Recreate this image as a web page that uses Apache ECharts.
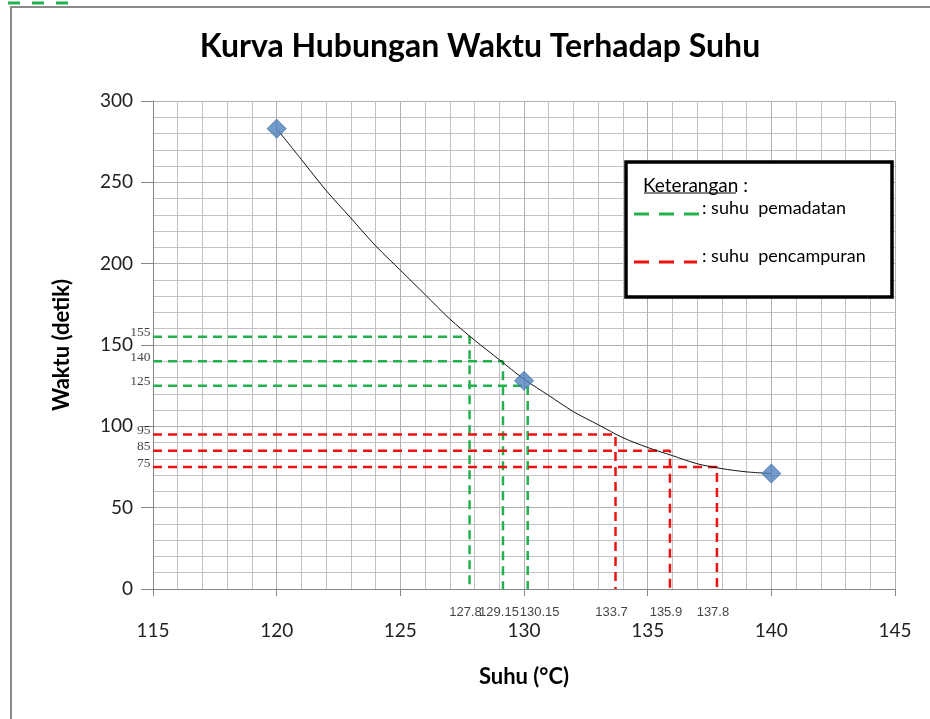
<!DOCTYPE html>
<html><head><meta charset="utf-8">
<script src="https://cdn.jsdelivr.net/npm/echarts@6/dist/echarts.min.js"></script>
<style>html,body{margin:0;padding:0;background:#fff}#c{width:930px;height:719px}</style>
</head><body><div id="c"></div>
<script>
// Measured points (Suhu °C, Waktu detik)
const pointSuhu = [120, 130, 140];
const pointWaktu = [283, 128, 71];
// Curve at each 1 °C
const curveSuhu = [120, 121, 122, 123, 124, 125, 126, 127, 128, 129, 130, 131, 132, 133, 134, 135, 136, 137, 138, 139, 140];
const curveWaktu = [283, 264, 245, 228, 211, 196, 181, 166, 153, 141, 129, 119, 109, 101, 93, 87, 82, 77, 74, 72, 71];
// Reference readings
const pemadatanSuhu = [127.8, 129.15, 130.15];
const pemadatanWaktu = [155, 140, 125];
const pencampuranSuhu = [133.7, 135.9, 137.8];
const pencampuranWaktu = [95, 85, 75];
const xTicks = [115, 120, 125, 130, 135, 140, 145];
const yTicks = [0, 50, 100, 150, 200, 250, 300];

const GREEN = '#22b14c', RED = '#ee1111';
const smallFont = "'Liberation Sans', sans-serif";
const series = [];

function refLines(sx, wy, color, dash, width) {
  sx.forEach((x, i) => {
    series.push({
      type: 'line', data: [[xTicks[0], wy[i]], [x, wy[i]], [x, yTicks[0]]],
      symbol: 'none', silent: true, z: 3,
      lineStyle: { color: color, type: dash, width: width }
    });
  });
}
refLines(pemadatanSuhu, pemadatanWaktu, GREEN, [9, 6], 2.5);
refLines(pencampuranSuhu, pencampuranWaktu, RED, [9, 6], 2.5);

// small value labels
const allSuhu = pemadatanSuhu.concat(pencampuranSuhu);
const allWaktu = pemadatanWaktu.concat(pencampuranWaktu);
const xLabelAlign = ['center', 'center', 'left', 'center', 'center', 'center'];
series.push({
  type: 'scatter', silent: true, symbolSize: 1, itemStyle: { color: 'rgba(0,0,0,0)' }, z: 6,
  data: allSuhu.map((x, i) => ({
    value: [x, yTicks[0]],
    label: { show: true, position: 'bottom', distance: 16, formatter: String(x), align: xLabelAlign[i],
      offset: xLabelAlign[i] === 'left' ? [-8, 0] : [-4, 0],
      color: '#111', fontSize: 13, fontFamily: smallFont }
  }))
});
series.push({
  type: 'scatter', silent: true, symbolSize: 1, itemStyle: { color: 'rgba(0,0,0,0)' }, z: 6,
  data: allWaktu.map((y, i) => ({
    value: [xTicks[0], y],
    label: { show: true, position: 'left', distance: 2, formatter: String(y), offset: [0, -4],
      color: '#111', fontSize: 13.5, fontFamily: "'Liberation Serif', serif" }
  }))
});

series.push({
  type: 'line', data: curveSuhu.map((x, i) => [x, curveWaktu[i]]),
  smooth: 0.3, symbol: 'none', z: 4,
  lineStyle: { color: '#111', width: 1 }
});
series.push({
  type: 'scatter', data: pointSuhu.map((x, i) => [x, pointWaktu[i]]),
  symbol: 'diamond', symbolSize: [19, 19], z: 5,
  itemStyle: { color: '#4f81bd', borderColor: '#3d6ea8', borderWidth: 1 }
});

const chart = echarts.init(document.getElementById('c'), null, { renderer: 'canvas' });
chart.setOption({
  animation: false,
  backgroundColor: '#fff',
  title: {
    text: 'Kurva Hubungan Waktu Terhadap Suhu', left: 475, top: 26, textAlign: 'center',
    textStyle: { fontFamily: 'Lato', fontWeight: 'bold', fontSize: 32, color: '#000' }
  },
  grid: { left: 153, right: 35, top: 101, bottom: 130 },
  xAxis: {
    type: 'value', min: xTicks[0], max: xTicks[xTicks.length - 1], interval: 5,
    name: 'Suhu (°C)', nameLocation: 'middle', nameGap: 77,
    nameTextStyle: { fontFamily: 'Lato', fontWeight: 'bold', fontSize: 22, color: '#000' },
    axisLine: { lineStyle: { color: '#868686', width: 1 } },
    axisTick: { show: true, length: 7, lineStyle: { color: '#868686' } },
    axisLabel: { margin: 32, fontSize: 19, color: '#222', fontFamily: 'Lato' },
    splitLine: { lineStyle: { color: '#b0b0b0', width: 1 } },
    minorTick: { show: false, splitNumber: 5 },
    minorSplitLine: { show: true, lineStyle: { color: '#c2c2c2', width: 1 } }
  },
  yAxis: {
    type: 'value', min: yTicks[0], max: yTicks[yTicks.length - 1], interval: 50,
    name: 'Waktu (detik)', nameLocation: 'middle', nameGap: 80, nameRotate: 90,
    nameTextStyle: { fontFamily: 'Lato', fontWeight: 'bold', fontSize: 22, color: '#000' },
    axisLine: { show: true, lineStyle: { color: '#868686', width: 1 } },
    axisTick: { show: true, length: 12, lineStyle: { color: '#868686' } },
    axisLabel: { margin: 20, fontSize: 19, color: '#222', fontFamily: 'Lato' },
    splitLine: { lineStyle: { color: '#b0b0b0', width: 1 } },
    minorTick: { show: false, splitNumber: 5 },
    minorSplitLine: { show: true, lineStyle: { color: '#c2c2c2', width: 1 } }
  },
  graphic: [
    { type: 'line', shape: { x1: 11, y1: 7, x2: 930, y2: 7 }, style: { stroke: '#8a8a8a', lineWidth: 2 } },
    { type: 'line', shape: { x1: 11, y1: 6, x2: 11, y2: 719 }, style: { stroke: '#8a8a8a', lineWidth: 2 } },
    { type: 'line', shape: { x1: 8, y1: 3, x2: 78, y2: 3 }, style: { stroke: '#22b14c', lineWidth: 3, lineDash: [12, 12] } },
    { type: 'rect', shape: { x: 626, y: 162, width: 266, height: 135 }, style: { fill: '#fff', stroke: '#000', lineWidth: 3.5 }, z: 100 },
    { type: 'text', x: 643, y: 176, style: { text: 'Keterangan :', fontSize: 19, fontFamily: 'Lato', fill: '#000' }, z: 101 },
    { type: 'line', shape: { x1: 644, y1: 193, x2: 736, y2: 193 }, style: { stroke: '#000', lineWidth: 1 }, z: 101 },
    { type: 'line', shape: { x1: 634, y1: 214, x2: 700, y2: 214 }, style: { stroke: GREEN, lineWidth: 3, lineDash: [15, 10] }, z: 101 },
    { type: 'text', x: 702, y: 199, style: { text: ': suhu  pemadatan', fontSize: 18, fontFamily: 'Lato', fill: '#000' }, z: 101 },
    { type: 'line', shape: { x1: 634, y1: 262, x2: 697, y2: 262 }, style: { stroke: RED, lineWidth: 3, lineDash: [15, 10] }, z: 101 },
    { type: 'text', x: 702, y: 247, style: { text: ': suhu  pencampuran', fontSize: 18, fontFamily: 'Lato', fill: '#000' }, z: 101 }
  ],
  series: series
});
</script></body></html>
